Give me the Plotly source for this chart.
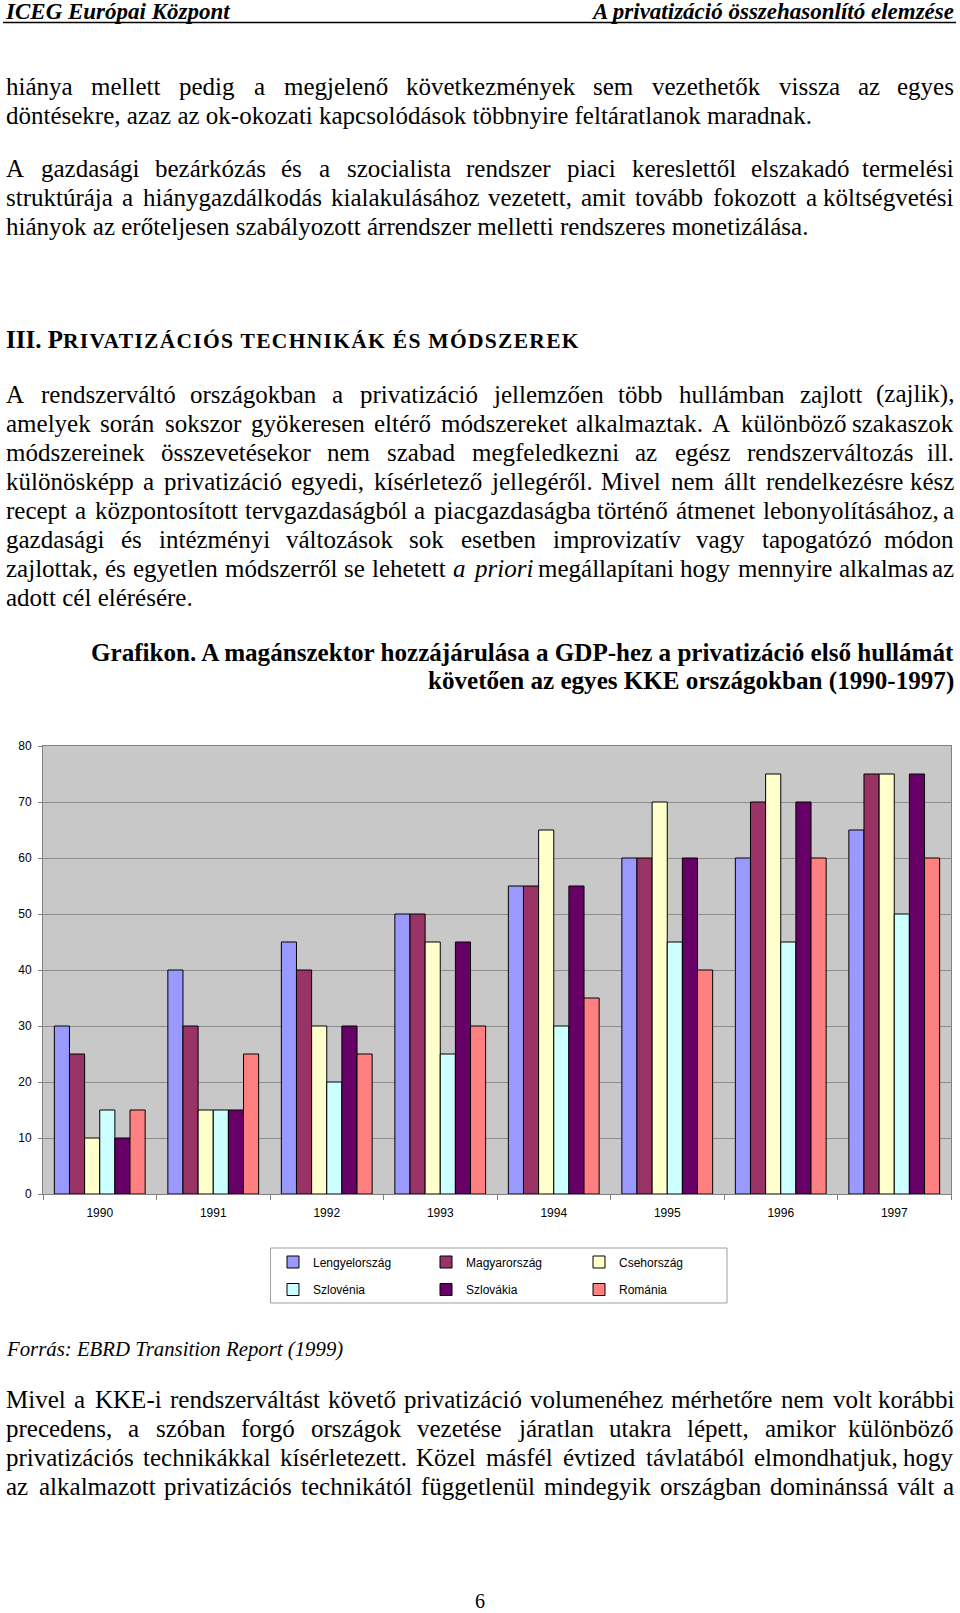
import plotly.graph_objects as go

W, H = 960, 1613

# ---------------- data ----------------
years = ["1990", "1991", "1992", "1993", "1994", "1995", "1996", "1997"]
countries = ["Lengyelország", "Magyarország", "Csehország", "Szlovénia", "Szlovákia", "Románia"]
lengyelorszag = [30, 40, 45, 50, 55, 60, 60, 65]
magyarorszag = [25, 30, 40, 50, 55, 60, 70, 75]
csehorszag = [10, 15, 30, 45, 65, 70, 75, 75]
szlovenia = [15, 15, 20, 25, 30, 45, 45, 50]
szlovakia = [10, 15, 30, 45, 55, 60, 70, 75]
romania = [15, 25, 25, 30, 35, 40, 60, 60]
series = [lengyelorszag, magyarorszag, csehorszag, szlovenia, szlovakia, romania]
y_ticks = [0, 10, 20, 30, 40, 50, 60, 70, 80]

header_left = "ICEG Európai Központ"
header_right = "A privatizáció összehasonlító elemzése"
para1 = ["hiánya mellett pedig a megjelenő következmények sem vezethetők vissza az egyes",
         "döntésekre, azaz az ok-okozati kapcsolódások többnyire feltáratlanok maradnak."]
para2 = ["A gazdasági bezárkózás és a szocialista rendszer piaci kereslettől elszakadó termelési",
         "struktúrája a hiánygazdálkodás kialakulásához vezetett, amit tovább fokozott a költségvetési",
         "hiányok az erőteljesen szabályozott árrendszer melletti rendszeres monetizálása."]
heading_main = "III. P"
heading_small = "RIVATIZÁCIÓS TECHNIKÁK ÉS MÓDSZEREK"
para3 = ["A rendszerváltó országokban a privatizáció jellemzően több hullámban zajlott (zajlik),",
         "amelyek során sokszor gyökeresen eltérő módszereket alkalmaztak. A különböző szakaszok",
         "módszereinek összevetésekor nem szabad megfeledkezni az egész rendszerváltozás ill.",
         "különösképp a privatizáció egyedi, kísérletező jellegéről. Mivel nem állt rendelkezésre kész",
         "recept a központosított tervgazdaságból a piacgazdaságba történő átmenet lebonyolításához, a",
         "gazdasági és intézményi változások sok esetben improvizatív vagy tapogatózó módon",
         "zajlottak, és egyetlen módszerről se lehetett *a *priori megállapítani hogy mennyire alkalmas az",
         "adott cél elérésére."]
caption = ["Grafikon. A magánszektor hozzájárulása a GDP-hez a privatizáció első hullámát",
           "követően az egyes KKE országokban (1990-1997)"]
source = "Forrás: EBRD Transition Report (1999)"
para4 = ["Mivel a KKE-i rendszerváltást követő privatizáció volumenéhez mérhetőre nem volt korábbi",
         "precedens, a szóban forgó országok vezetése járatlan utakra lépett, amikor különböző",
         "privatizációs technikákkal kísérletezett. Közel másfél évtized távlatából elmondhatjuk, hogy",
         "az alkalmazott privatizációs technikától függetlenül mindegyik országban dominánssá vált a"]
page_no = "6"

# ---------------- style ----------------
bar_colors = ["#9999FF", "#993366", "#FFFFCC", "#CCFFFF", "#660066", "#FF8080"]
SERIF = "Liberation Serif, Times New Roman, serif"
SANS = "Liberation Sans, Arial, sans-serif"
BODY = 25.0

REG = dict(zip("abcdefghijklmnopqrstuvwxyz",
               [444, 500, 444, 500, 444, 333, 500, 500, 278, 278, 500, 278, 778, 500, 500, 500, 500, 333, 389, 278, 500, 500, 722, 500, 500, 444]))
REG.update(dict(zip("ABCDEFGHIJKLMNOPQRSTUVWXYZ",
                    [722, 667, 667, 722, 611, 556, 722, 722, 333, 389, 722, 611, 889, 722, 722, 556, 722, 667, 556, 611, 722, 722, 944, 722, 722, 611])))
REG.update({"á": 444, "é": 444, "í": 278, "ó": 500, "ö": 500, "ő": 500, "ú": 500, "ü": 500, "ű": 500,
            " ": 250, ",": 250, ".": 250, "-": 333, "(": 333, ")": 333, ":": 278})
ITA = dict(REG)
ITA.update(dict(zip("abcdefghijklmnopqrstuvwxyz",
                    [500, 500, 444, 500, 444, 278, 500, 500, 278, 278, 444, 278, 722, 500, 500, 500, 500, 389, 389, 278, 500, 444, 667, 444, 444, 389])))


def tw(s, table, size):
    return sum(table.get(c, 500) for c in s) * size / 1000.0 * 0.986


def px(x):
    return x / W


def py(y):
    return 1 - y / H


annotations = []


def add_text(text, x, baseline, size, xanchor="left", family=SERIF):
    yc = baseline - 0.3375 * size
    annotations.append(dict(text=text, x=px(x), y=py(yc), xref="paper", yref="paper",
                            xanchor=xanchor, yanchor="middle", showarrow=False, borderpad=0,
                            font=dict(family=family, size=size, color="black")))


def add_justified(line, baseline, size=BODY, x0=5, x1=955):
    words = line.split(" ")
    info = []
    for w in words:
        it = w.startswith("*")
        w2 = w.lstrip("*")
        info.append((w2, it, tw(w2, ITA if it else REG, size)))
    gap = (x1 - x0 - sum(i[2] for i in info)) / (len(info) - 1)
    x = x0
    for k, (w2, it, wd) in enumerate(info):
        t = "<i>%s</i>" % w2 if it else w2
        if k == len(info) - 1:
            add_text(t, x1, baseline, size, xanchor="right")
        else:
            add_text(t, x, baseline, size)
        x += wd + gap


def add_para(lines, first_baseline, step=29.1, last_left=True):
    for k, ln in enumerate(lines):
        b = first_baseline + k * step
        if k == len(lines) - 1 and last_left:
            add_text(ln.replace("*", ""), 5, b, BODY)
        else:
            add_justified(ln, b)


# header
add_text("<b><i>%s</i></b>" % header_left, 4, 19.5, 23)
add_text("<b><i>%s</i></b>" % header_right, 955, 19.5, 23, xanchor="right")

add_para(para1, 94.5)
add_para(para2, 177.0)
add_text("<b>%s<span style='font-size:21.5px;letter-spacing:1.3px'>%s</span></b>" % (heading_main, heading_small),
         5, 348, BODY)
add_para(para3, 402.7)
add_text("<b>%s</b>" % caption[0], 955, 660.5, 25.1, xanchor="right")
add_text("<b>%s</b>" % caption[1], 955, 689.3, 25.1, xanchor="right")
add_text("<i>%s</i>" % source, 5, 1356, 20.8)
add_para(para4, 1407.5, last_left=False)
add_text(page_no, 480, 1607.5, 20, xanchor="center")

# ---------------- chart ----------------
fig = go.Figure()
for i, (name, vals) in enumerate(zip(countries, series)):
    fig.add_trace(go.Bar(
        x=years, y=vals, name=name,
        marker=dict(color=bar_colors[i], line=dict(color="black", width=1)),
        legend="legend" if i < 3 else "legend2",
        legendwidth=108,
    ))

plot_l, plot_r, plot_t, plot_b = 43, 951, 746, 1194

legend_common = dict(orientation="h", xanchor="left", yanchor="middle", bgcolor="rgba(0,0,0,0)",
                     borderwidth=0, font=dict(family=SANS, size=12, color="black"),
                     traceorder="normal", itemclick=False, tracegroupgap=0)

fig.update_layout(
    template="none",
    width=W, height=H, autosize=False,
    margin=dict(l=0, r=0, t=0, b=0, pad=0),
    paper_bgcolor="white",
    plot_bgcolor="#C8C8C8",
    barmode="group", bargap=0.2, bargroupgap=0,
    showlegend=True,
    legend=dict(x=px(273), y=py(1262), **legend_common),
    legend2=dict(x=px(273), y=py(1289.5), **legend_common),
    xaxis=dict(domain=[px(plot_l), px(plot_r)], type="category", showgrid=False,
               showline=True, linecolor="#808080", linewidth=1, mirror=True,
               ticks="outside", ticklen=5, tickcolor="#808080", tickson="boundaries",
               tickfont=dict(family=SANS, size=12, color="black"), ticklabelstandoff=8,
               zeroline=False, fixedrange=True),
    yaxis=dict(domain=[py(plot_b), py(plot_t)], range=[0, 80], tickvals=y_ticks,
               showgrid=True, gridcolor="#8C8C8C", gridwidth=1,
               showline=True, linecolor="#808080", linewidth=1, mirror=True,
               ticks="outside", ticklen=4, tickcolor="#808080",
               tickfont=dict(family=SANS, size=12, color="black"), ticklabelstandoff=4,
               zeroline=False, fixedrange=True),
    annotations=annotations,
    shapes=[
        dict(type="line", xref="paper", yref="paper", x0=px(3), x1=px(956), y0=py(22.5), y1=py(22.5),
             line=dict(color="black", width=1.4)),
        dict(type="rect", xref="paper", yref="paper", x0=px(270.5), x1=px(727), y0=py(1248), y1=py(1303),
             line=dict(color="#A0A0A0", width=1), fillcolor="rgba(0,0,0,0)"),
    ],
)

fig.write_html(
    "out.html",
    config={"displayModeBar": False},
    post_script="document.body.style.margin='0';document.body.style.padding='0';"
                "document.documentElement.style.overflow='hidden';document.body.style.overflow='hidden';",
)
